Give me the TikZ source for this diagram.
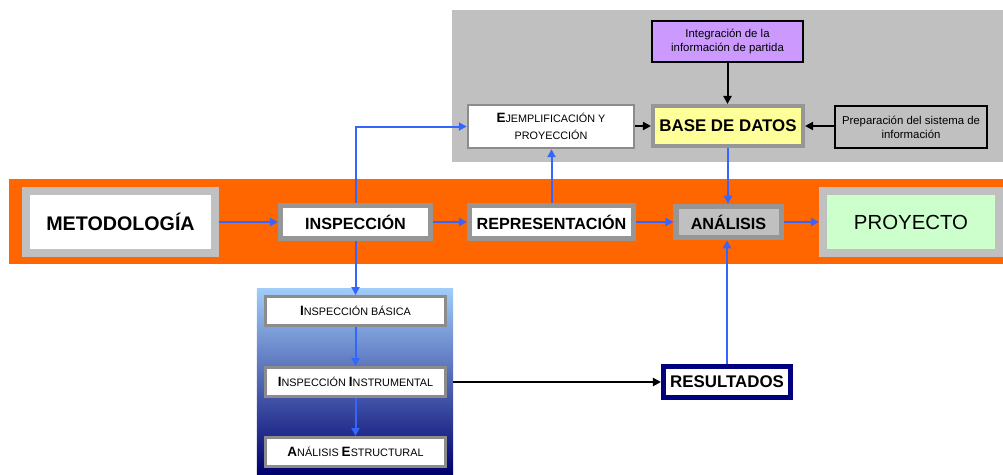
\documentclass[tikz,border=0pt]{standalone}
\usepackage{fontspec}
\setmainfont{Liberation Sans}
\usetikzlibrary{arrows.meta, positioning}
\definecolor{corange}{HTML}{FF6600}
\definecolor{cgrey}{HTML}{C0C0C0}
\definecolor{cdgrey}{HTML}{969696}
\definecolor{cline}{HTML}{8C8C8C}
\definecolor{cblue}{HTML}{3366FF}
\definecolor{cnavy}{HTML}{000080}
\definecolor{cpurple}{HTML}{CC99FF}
\definecolor{cyellow}{HTML}{FFFF99}
\definecolor{cgreen}{HTML}{CCFFCC}
\definecolor{csky}{HTML}{A0CCF8}
\definecolor{cdeep}{HTML}{00006E}
\newcommand{\initcap}[1]{{\fontsize{9.6}{12}\selectfont\bfseries #1}}
\tikzset{
  stage/.style={draw=cdgrey, line width=0.125cm, fill=white, inner sep=0pt,
    minimum height=0.825cm, font=\bfseries\fontsize{11.5}{13}\selectfont},
  endbox/.style={draw=cgrey, line width=0.2cm, inner sep=0pt,
    minimum height=1.525cm, font=\fontsize{14.5}{16}\selectfont},
  sub/.style={draw=cline, line width=0.075cm, fill=white, inner sep=0pt,
    minimum width=4.5cm, minimum height=0.725cm, font=\fontsize{7.7}{12}\selectfont},
  note/.style={draw=black, line width=0.04cm, align=center, inner sep=0pt,
    font=\fontsize{8.1}{10}\selectfont},
  flow/.style={-{Triangle[length=2mm,width=2mm]}, draw=cblue, line width=0.05cm},
  feed/.style={-{Triangle[length=2mm,width=2mm]}, draw=black, line width=0.05cm},
}
\begin{document}
\begin{tikzpicture}[x=0.025cm, y=-0.025cm]
  \useasboundingbox (0,0) rectangle (1003,474);
  % backgrounds
  \node[fill=cgrey, inner sep=0pt, minimum width=13.775cm, minimum height=3.8cm] (dbpanel) at (727.5,86) {};
  \node[fill=corange, inner sep=0pt, minimum width=24.85cm, minimum height=2.125cm] (band) at (506,221.5) {};
  \node[top color=csky, bottom color=cdeep, inner sep=0pt, minimum width=4.9cm, minimum height=4.625cm] (inpanel) at (355,381.5) {};
  % upper block
  \node[note, fill=cpurple, minimum width=3.775cm, minimum height=1.025cm] (integ) at (727.5,41.5) {Integración de la\\información de partida};
  \node[draw=cdgrey, line width=0.1cm, fill=cyellow, inner sep=0pt, minimum width=3.75cm, minimum height=1cm,
    font=\bfseries\fontsize{12}{14}\selectfont] (bd) at (728,126) {BASE DE DATOS};
  \node[draw=cline, line width=0.06cm, fill=white, align=center, inner sep=0pt, minimum width=4.15cm, minimum height=1.075cm,
    font=\fontsize{7.7}{12}\selectfont] (ejem) at (551,126.5) {\initcap{E}JEMPLIFICACIÓN Y\\PROYECCIÓN};
  \node[note, fill=cgrey, line width=0.055cm, minimum width=3.8cm, minimum height=1.05cm] (prep) at (911,127) {Preparación del sistema de\\información};
  % main row
  \node[endbox, fill=white, font=\bfseries\fontsize{14}{16}\selectfont, minimum width=4.725cm] (metod) at (120.5,222) {METODOLOGÍA};
  \node[stage, minimum width=3.75cm] (insp) at (355.5,222) {INSPECCIÓN};
  \node[stage, minimum width=4.1cm] (repr) at (551.5,222) {REPRESENTACIÓN};
  \node[stage, fill=cgrey, minimum width=2.625cm, minimum height=0.79cm] (anal) at (728.5,222) {ANÁLISIS};
  \node[endbox, fill=cgreen, minimum width=4.4cm] (proy) at (911,222) {PROYECTO};
  % inspection steps
  \node[sub] (ibas) at (355.5,311) {\initcap{I}NSPECCIÓN BÁSICA};
  \node[sub] (iins) at (355.5,382) {\initcap{I}NSPECCIÓN \initcap{I}NSTRUMENTAL};
  \node[sub] (aest) at (355.5,452) {\initcap{A}NÁLISIS \initcap{E}STRUCTURAL};
  \node[draw=cnavy, line width=0.125cm, fill=white, inner sep=0pt, minimum width=3.175cm, minimum height=0.775cm,
    font=\bfseries\fontsize{12}{13}\selectfont] (resu) at (727,382) {RESULTADOS};
  % connectors
  \draw[flow] (metod) -- (insp);
  \draw[flow] (insp) -- (repr);
  \draw[flow] (repr) -- (anal);
  \draw[flow] (anal) -- (proy);
  \draw[flow] (insp.north) |- (ejem.west);
  \draw[flow] (repr.north) -- (repr.north |- ejem.south);
  \draw[flow] (bd.south) -- (bd.south |- anal.north);
  \draw[flow] (resu.north) -- (resu.north |- anal.south);
  \draw[flow] (insp.south) -- (ibas.north);
  \draw[flow] (ibas) -- (iins);
  \draw[flow] (iins) -- (aest);
  \draw[feed] (integ) -- (integ.south |- bd.north);
  \draw[feed] (ejem.east |- bd.west) -- (bd.west);
  \draw[feed] (prep.west |- bd.east) -- (bd.east);
  \draw[feed] (iins.east -| inpanel.east) -- (iins.east -| resu.west);
\end{tikzpicture}
\end{document}
